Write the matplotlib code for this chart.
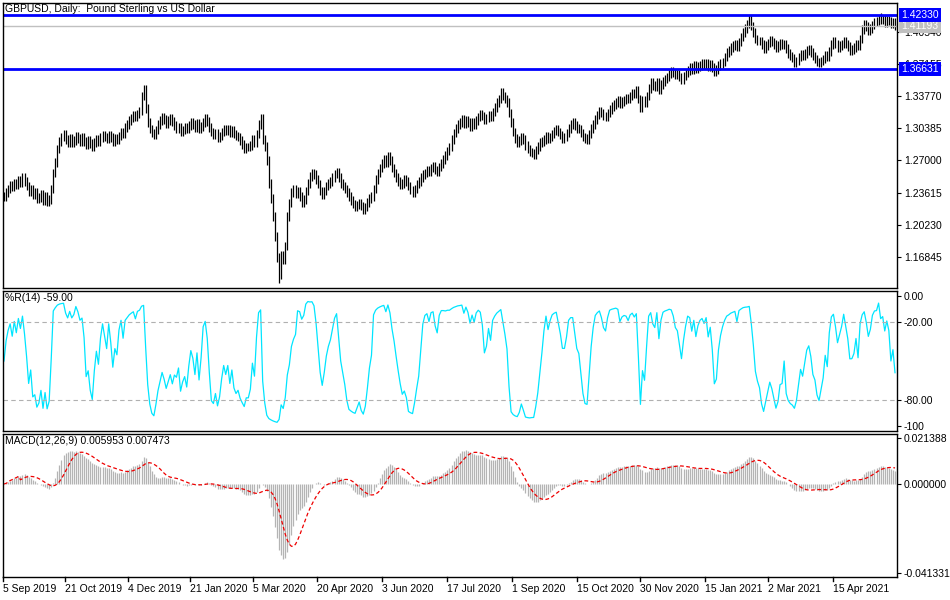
import numpy as np
import matplotlib
matplotlib.use("Agg")
import matplotlib.pyplot as plt
from matplotlib.transforms import blended_transform_factory as btf

# Daily closes GBPUSD (x0.001), 5 Sep 2019 - May 2021
closes_k = [
1232,1236,1240,1244,1242,1246,1244,1249,1247,1252,1248,1243,1237,1240,1234,1236,1230,1231,
1234,1228,1232,1227,1229,1240,1257,1268,1282,1290,1295,1298,1292,1289,1293,1289,1291,1296,
1293,1290,1294,1290,1287,1291,1288,1285,1289,1292,1290,1294,1297,1295,1293,1297,1294,1290,
1293,1292,1296,1300,1298,1305,1308,1312,1315,1318,1316,1319,1322,1338,1345,1325,1310,1303,
1299,1297,1302,1308,1312,1316,1313,1309,1312,1315,1311,1307,1303,1305,1300,1302,1305,1303,
1307,1310,1308,1305,1309,1304,1306,1310,1314,1311,1305,1300,1297,1299,1294,1296,1300,1303,
1301,1303,1299,1302,1298,1296,1295,1291,1287,1282,1284,1284,1286,1292,1289,1298,1308,1315,
1292,1285,1270,1246,1230,1211,1190,1168,1150,1170,1165,1180,1211,1225,1236,1240,1235,1238,
1232,1226,1229,1238,1246,1253,1257,1255,1250,1245,1238,1234,1238,1243,1246,1248,1252,1256,
1258,1252,1246,1243,1240,1236,1232,1228,1224,1221,1223,1225,1222,1218,1221,1226,1230,1232,
1240,1250,1257,1262,1267,1271,1268,1274,1270,1262,1257,1252,1248,1244,1246,1250,1248,1243,
1239,1236,1240,1245,1248,1252,1255,1257,1260,1258,1262,1264,1260,1258,1263,1267,1271,1275,
1280,1284,1292,1299,1304,1308,1310,1313,1309,1312,1310,1306,1310,1308,1312,1316,1319,1317,
1313,1315,1318,1316,1321,1326,1331,1335,1342,1338,1335,1331,1320,1310,1300,1293,1289,1291,
1295,1292,1286,1282,1279,1278,1276,1281,1285,1289,1290,1292,1296,1293,1295,1298,1301,1303,
1300,1297,1293,1295,1299,1304,1308,1310,1307,1304,1303,1299,1295,1293,1292,1298,1304,1308,
1313,1318,1322,1320,1317,1316,1320,1324,1327,1329,1331,1333,1330,1332,1334,1336,1335,1338,
1341,1340,1344,1335,1326,1333,1331,1338,1346,1352,1349,1348,1352,1345,1350,1353,1356,1358,
1361,1364,1362,1360,1361,1358,1355,1359,1362,1365,1368,1366,1370,1367,1369,1370,1372,1371,
1373,1369,1371,1368,1364,1366,1370,1372,1374,1379,1384,1386,1389,1391,1393,1390,1395,1400,
1405,1409,1414,1419,1412,1405,1398,1396,1396,1392,1388,1391,1394,1397,1395,1392,1389,1391,
1394,1392,1393,1388,1383,1380,1378,1373,1375,1379,1382,1380,1383,1386,1387,1384,1380,1377,
1374,1373,1375,1377,1381,1379,1385,1392,1396,1393,1389,1391,1393,1396,1393,1390,1386,1387,
1389,1392,1391,1398,1408,1414,1411,1407,1409,1413,1416,1417,1421,1418,1419,1415,1418,1417,
1414,1416,1412]
date_labels = ["5 Sep 2019","21 Oct 2019","4 Dec 2019","21 Jan 2020","5 Mar 2020","20 Apr 2020",
               "3 Jun 2020","17 Jul 2020","1 Sep 2020","15 Oct 2020","30 Nov 2020","15 Jan 2021",
               "2 Mar 2021","15 Apr 2021"]
date_px = [3,65,128,190,253,317,382,447,512,577,640,705,768,833]
price_ticks = [1.16845,1.20230,1.23615,1.27000,1.30385,1.33770,1.37155,1.40540]
level_hi, level_lo, last_price = 1.42330, 1.36631, 1.41193

close = np.array(closes_k)/1000.0
close[-1] = last_price
n = len(close)
opn = np.concatenate([[close[0]], close[:-1]])
wick = 0.0045
high = np.maximum(opn, close) + wick
low = np.minimum(opn, close) - wick
high[np.argmax(close)] = level_hi
low[np.argmin(close)] = 1.1409

lo14 = np.array([low[max(0,i-13):i+1].min() for i in range(n)])
hi14 = np.array([high[max(0,i-13):i+1].max() for i in range(n)])
wr = -100*(hi14-close)/(hi14-lo14)
def ema(x, p):
    a = 2/(p+1); out = np.empty_like(x); out[0]=x[0]
    for i in range(1,len(x)): out[i]=a*x[i]+(1-a)*out[i-1]
    return out
macd = ema(close,12)-ema(close,26)
sig = np.convolve(macd, np.ones(9)/9, mode='full')[:n]
sig[:8] = macd[:8]

W, H = 950, 600
plt.rcParams['font.family'] = ['Liberation Sans', 'DejaVu Sans']
FS = 7.5
fig = plt.figure(figsize=(9.5,6), dpi=100)
def axpx(l, t, r, b):
    return fig.add_axes([l/W, 1-b/H, (r-l)/W, (b-t)/H])
ax1 = axpx(3,3,897,288); ax2 = axpx(3,291,897,431); ax3 = axpx(3,434,897,577)
x = np.arange(n)
xscale = (n-1)/(895-4)
xl = (-(4-3)*xscale, (897-4)*xscale)
for a in (ax1,ax2,ax3):
    a.set_xlim(*xl)
    a.set_xticks([]); a.yaxis.tick_right()
    a.tick_params(axis='y', labelsize=FS, length=3, pad=2, colors='black')
    for s in a.spines.values(): s.set_linewidth(1)

ax1.vlines(x, low, high, color='black', lw=0.9)
ax1.set_ylim(1.1356, 1.4360)
ax1.set_yticks(price_ticks); ax1.set_yticklabels([f"{t:.5f}" for t in price_ticks])
tr = btf(ax1.transAxes, ax1.transData)
ax1.axhline(last_price, color='#c0c0c0', lw=1)
ax1.text(1.005, last_price, f"{last_price:.5f}", transform=tr, fontsize=FS, color='white', va='center',
         bbox=dict(boxstyle='square,pad=0.2', fc='#c0c0c0', ec='none'), clip_on=False)
for lv in (level_hi, level_lo):
    ax1.axhline(lv, color='#0000ff', lw=2)
    ax1.text(1.005, lv, f"{lv:.5f}", transform=tr, fontsize=FS, color='white', va='center',
             bbox=dict(boxstyle='square,pad=0.2', fc='#0000ff', ec='none'), clip_on=False)
ax1.text(0.002, 0.997, "GBPUSD, Daily:  Pound Sterling vs US Dollar", transform=ax1.transAxes,
         fontsize=FS, va='top')

ax2.plot(x, wr, color='#00e5ff', lw=0.9)
ax2.set_ylim(-103.8, 3.8)
for lv in (-20, -80):
    ax2.axhline(lv, color='#b0b0b0', lw=0.8, ls=(0,(4,3)))
ax2.set_yticks([0,-20,-80,-100]); ax2.set_yticklabels(["0.00","-20.00","-80.00","-100"])
ax2.text(0.002, 0.985, f"%R(14) {wr[-1]:.2f}", transform=ax2.transAxes, fontsize=FS, va='top')

ax3.vlines(x, 0, macd, color='#b4b4b4', lw=0.9)
ax3.plot(x, sig, color='#ee0000', lw=0.9, ls=(0,(3,2)))
ax3.set_ylim(-0.04319, 0.02325)
ax3.set_yticks([0.021388, 0.0, -0.041331]); ax3.set_yticklabels(["0.021388","0.000000","-0.041331"])
ax3.text(0.002, 0.985, f"MACD(12,26,9) {macd[-1]:.6f} {sig[-1]:.6f}", transform=ax3.transAxes, fontsize=FS, va='top')

for lab, px in zip(date_labels, date_px):
    fig.text(px/W, 1-592/H, lab, fontsize=FS, ha='left', va='baseline')
    fig.add_artist(plt.Line2D([px/W,px/W],[1-577/H,1-581/H], color='black', lw=1))

fig.savefig("out.png", dpi=100, facecolor='white')
